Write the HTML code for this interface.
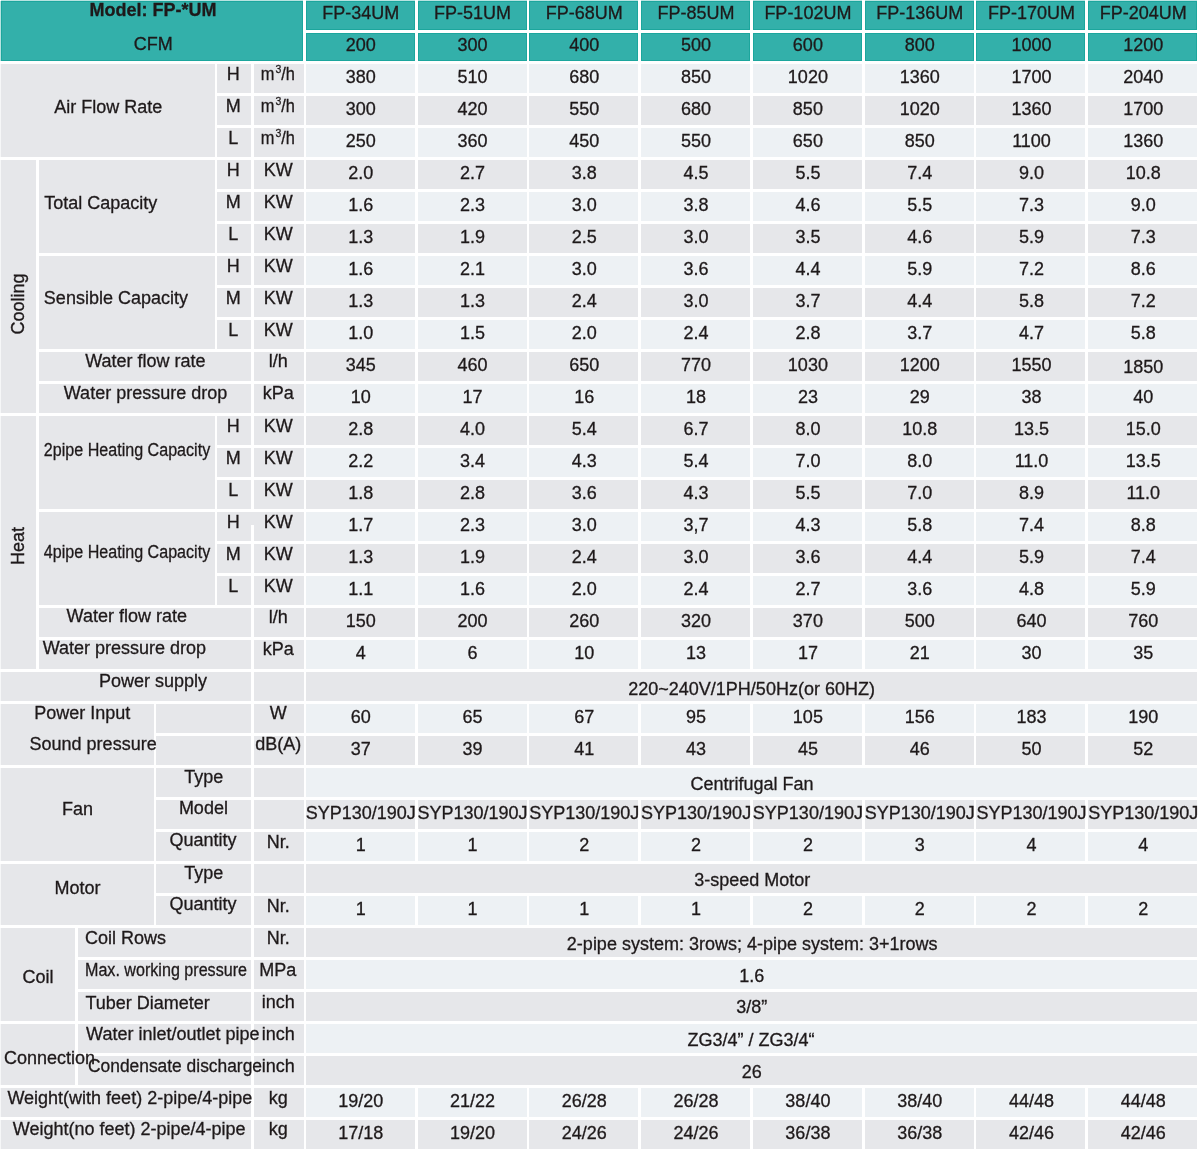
<!DOCTYPE html>
<html><head><meta charset="utf-8"><title>FP-UM specification</title>
<style>
html,body{margin:0;padding:0;background:#fff;}
body{width:1200px;height:1151px;position:relative;overflow:hidden;}
.c{position:absolute;}
#tx{position:absolute;left:0;top:0;width:1200px;height:1151px;will-change:transform;}
.t{position:absolute;-webkit-text-stroke:0.3px #1e191a;font-family:"Liberation Sans",Arial,sans-serif;font-size:18px;line-height:20px;color:#1e191a;white-space:nowrap;width:400px;text-align:center;}
.b{font-weight:bold;}
sup{font-size:11.5px;line-height:10px;vertical-align:0;position:relative;top:-6.1px;margin-left:1.4px;margin-right:-0.2px;}
.m3{display:inline-block;transform:scaleX(0.91);}
</style></head><body>

<div class="c" style="left:0px;top:0.5px;width:1px;height:60.5px;background:#33b0aa;opacity:.35"></div>
<div class="c" style="left:0.75px;top:0px;width:302.55px;height:1px;background:#33b0aa;opacity:.35"></div>
<div class="c" style="left:306px;top:0px;width:109px;height:1px;background:#33b0aa;opacity:.35"></div>
<div class="c" style="left:417.73px;top:0px;width:109px;height:1px;background:#33b0aa;opacity:.35"></div>
<div class="c" style="left:529.46px;top:0px;width:109px;height:1px;background:#33b0aa;opacity:.35"></div>
<div class="c" style="left:641.19px;top:0px;width:109px;height:1px;background:#33b0aa;opacity:.35"></div>
<div class="c" style="left:752.92px;top:0px;width:109px;height:1px;background:#33b0aa;opacity:.35"></div>
<div class="c" style="left:864.65px;top:0px;width:109px;height:1px;background:#33b0aa;opacity:.35"></div>
<div class="c" style="left:976.38px;top:0px;width:109px;height:1px;background:#33b0aa;opacity:.35"></div>
<div class="c" style="left:1088.11px;top:0px;width:109px;height:1px;background:#33b0aa;opacity:.35"></div>
<div class="c" style="left:0px;top:64.452px;width:1px;height:92.852px;background:#e6e7ea;opacity:.35"></div>
<div class="c" style="left:0px;top:160.38px;width:1px;height:252.732px;background:#e6e7ea;opacity:.35"></div>
<div class="c" style="left:0px;top:416.188px;width:1px;height:252.732px;background:#e6e7ea;opacity:.35"></div>
<div class="c" style="left:0px;top:671.996px;width:1px;height:28.9px;background:#e6e7ea;opacity:.35"></div>
<div class="c" style="left:0px;top:703.972px;width:1px;height:60.876px;background:#e6e7ea;opacity:.35"></div>
<div class="c" style="left:0px;top:767.924px;width:1px;height:92.852px;background:#e6e7ea;opacity:.35"></div>
<div class="c" style="left:0px;top:863.852px;width:1px;height:60.876px;background:#e6e7ea;opacity:.35"></div>
<div class="c" style="left:0px;top:927.804px;width:1px;height:92.852px;background:#e6e7ea;opacity:.35"></div>
<div class="c" style="left:0px;top:1023.732px;width:1px;height:60.876px;background:#e6e7ea;opacity:.35"></div>
<div class="c" style="left:0px;top:1087.684px;width:1px;height:28.9px;background:#e6e7ea;opacity:.35"></div>
<div class="c" style="left:0px;top:1119.66px;width:1px;height:28.9px;background:#e6e7ea;opacity:.35"></div>
<div class="c" style="left:0.75px;top:0.5px;width:302.55px;height:60.5px;background:#33b0aa;box-shadow:inset 0 0 0 1px #1ca69d"></div>
<div class="c" style="left:306px;top:0.5px;width:109px;height:29.3px;background:#33b0aa;box-shadow:inset 0 0 0 1px #1ca69d"></div>
<div class="c" style="left:306px;top:32.9px;width:109px;height:28.1px;background:#33b0aa;box-shadow:inset 0 0 0 1px #1ca69d"></div>
<div class="c" style="left:417.73px;top:0.5px;width:109px;height:29.3px;background:#33b0aa;box-shadow:inset 0 0 0 1px #1ca69d"></div>
<div class="c" style="left:417.73px;top:32.9px;width:109px;height:28.1px;background:#33b0aa;box-shadow:inset 0 0 0 1px #1ca69d"></div>
<div class="c" style="left:529.46px;top:0.5px;width:109px;height:29.3px;background:#33b0aa;box-shadow:inset 0 0 0 1px #1ca69d"></div>
<div class="c" style="left:529.46px;top:32.9px;width:109px;height:28.1px;background:#33b0aa;box-shadow:inset 0 0 0 1px #1ca69d"></div>
<div class="c" style="left:641.19px;top:0.5px;width:109px;height:29.3px;background:#33b0aa;box-shadow:inset 0 0 0 1px #1ca69d"></div>
<div class="c" style="left:641.19px;top:32.9px;width:109px;height:28.1px;background:#33b0aa;box-shadow:inset 0 0 0 1px #1ca69d"></div>
<div class="c" style="left:752.92px;top:0.5px;width:109px;height:29.3px;background:#33b0aa;box-shadow:inset 0 0 0 1px #1ca69d"></div>
<div class="c" style="left:752.92px;top:32.9px;width:109px;height:28.1px;background:#33b0aa;box-shadow:inset 0 0 0 1px #1ca69d"></div>
<div class="c" style="left:864.65px;top:0.5px;width:109px;height:29.3px;background:#33b0aa;box-shadow:inset 0 0 0 1px #1ca69d"></div>
<div class="c" style="left:864.65px;top:32.9px;width:109px;height:28.1px;background:#33b0aa;box-shadow:inset 0 0 0 1px #1ca69d"></div>
<div class="c" style="left:976.38px;top:0.5px;width:109px;height:29.3px;background:#33b0aa;box-shadow:inset 0 0 0 1px #1ca69d"></div>
<div class="c" style="left:976.38px;top:32.9px;width:109px;height:28.1px;background:#33b0aa;box-shadow:inset 0 0 0 1px #1ca69d"></div>
<div class="c" style="left:1088.11px;top:0.5px;width:109px;height:29.3px;background:#33b0aa;box-shadow:inset 0 0 0 1px #1ca69d"></div>
<div class="c" style="left:1088.11px;top:32.9px;width:109px;height:28.1px;background:#33b0aa;box-shadow:inset 0 0 0 1px #1ca69d"></div>
<div class="c" style="left:0.75px;top:64.452px;width:214.25px;height:92.852px;background:#e6e7ea"></div>
<div class="c" style="left:217.3px;top:64.452px;width:33.7px;height:28.9px;background:#e6e7ea"></div>
<div class="c" style="left:253.8px;top:64.452px;width:49.9px;height:28.9px;background:#e6e7ea"></div>
<div class="c" style="left:217.3px;top:96.428px;width:33.7px;height:28.9px;background:#e6e7ea"></div>
<div class="c" style="left:253.8px;top:96.428px;width:49.9px;height:28.9px;background:#e6e7ea"></div>
<div class="c" style="left:217.3px;top:128.404px;width:33.7px;height:28.9px;background:#e6e7ea"></div>
<div class="c" style="left:253.8px;top:128.404px;width:49.9px;height:28.9px;background:#e6e7ea"></div>
<div class="c" style="left:0.75px;top:160.38px;width:35.25px;height:252.732px;background:#e6e7ea"></div>
<div class="c" style="left:38.7px;top:160.38px;width:176.3px;height:92.852px;background:#e6e7ea"></div>
<div class="c" style="left:217.3px;top:160.38px;width:33.7px;height:28.9px;background:#e6e7ea"></div>
<div class="c" style="left:253.8px;top:160.38px;width:49.9px;height:28.9px;background:#e6e7ea"></div>
<div class="c" style="left:217.3px;top:192.356px;width:33.7px;height:28.9px;background:#e6e7ea"></div>
<div class="c" style="left:253.8px;top:192.356px;width:49.9px;height:28.9px;background:#e6e7ea"></div>
<div class="c" style="left:217.3px;top:224.332px;width:33.7px;height:28.9px;background:#e6e7ea"></div>
<div class="c" style="left:253.8px;top:224.332px;width:49.9px;height:28.9px;background:#e6e7ea"></div>
<div class="c" style="left:38.7px;top:256.308px;width:176.3px;height:92.852px;background:#e6e7ea"></div>
<div class="c" style="left:217.3px;top:256.308px;width:33.7px;height:28.9px;background:#e6e7ea"></div>
<div class="c" style="left:253.8px;top:256.308px;width:49.9px;height:28.9px;background:#e6e7ea"></div>
<div class="c" style="left:217.3px;top:288.284px;width:33.7px;height:28.9px;background:#e6e7ea"></div>
<div class="c" style="left:253.8px;top:288.284px;width:49.9px;height:28.9px;background:#e6e7ea"></div>
<div class="c" style="left:217.3px;top:320.26px;width:33.7px;height:28.9px;background:#e6e7ea"></div>
<div class="c" style="left:253.8px;top:320.26px;width:49.9px;height:28.9px;background:#e6e7ea"></div>
<div class="c" style="left:38.7px;top:352.236px;width:212.3px;height:28.9px;background:#e6e7ea"></div>
<div class="c" style="left:253.8px;top:352.236px;width:49.9px;height:28.9px;background:#e6e7ea"></div>
<div class="c" style="left:38.7px;top:384.212px;width:212.3px;height:28.9px;background:#e6e7ea"></div>
<div class="c" style="left:253.8px;top:384.212px;width:49.9px;height:28.9px;background:#e6e7ea"></div>
<div class="c" style="left:0.75px;top:416.188px;width:35.25px;height:252.732px;background:#e6e7ea"></div>
<div class="c" style="left:38.7px;top:416.188px;width:176.3px;height:92.852px;background:#e6e7ea"></div>
<div class="c" style="left:217.3px;top:416.188px;width:33.7px;height:28.9px;background:#e6e7ea"></div>
<div class="c" style="left:253.8px;top:416.188px;width:49.9px;height:28.9px;background:#e6e7ea"></div>
<div class="c" style="left:217.3px;top:448.164px;width:33.7px;height:28.9px;background:#e6e7ea"></div>
<div class="c" style="left:253.8px;top:448.164px;width:49.9px;height:28.9px;background:#e6e7ea"></div>
<div class="c" style="left:217.3px;top:480.14px;width:33.7px;height:28.9px;background:#e6e7ea"></div>
<div class="c" style="left:253.8px;top:480.14px;width:49.9px;height:28.9px;background:#e6e7ea"></div>
<div class="c" style="left:38.7px;top:512.116px;width:176.3px;height:92.852px;background:#e6e7ea"></div>
<div class="c" style="left:250.5px;top:512px;width:3.8px;height:12.5px;background:#e6e7ea"></div>
<div class="c" style="left:217.3px;top:512.116px;width:33.7px;height:28.9px;background:#e6e7ea"></div>
<div class="c" style="left:253.8px;top:512.116px;width:49.9px;height:28.9px;background:#e6e7ea"></div>
<div class="c" style="left:217.3px;top:544.092px;width:33.7px;height:28.9px;background:#e6e7ea"></div>
<div class="c" style="left:253.8px;top:544.092px;width:49.9px;height:28.9px;background:#e6e7ea"></div>
<div class="c" style="left:217.3px;top:576.068px;width:33.7px;height:28.9px;background:#e6e7ea"></div>
<div class="c" style="left:253.8px;top:576.068px;width:49.9px;height:28.9px;background:#e6e7ea"></div>
<div class="c" style="left:38.7px;top:608.044px;width:212.3px;height:28.9px;background:#e6e7ea"></div>
<div class="c" style="left:253.8px;top:608.044px;width:49.9px;height:28.9px;background:#e6e7ea"></div>
<div class="c" style="left:38.7px;top:640.02px;width:212.3px;height:28.9px;background:#e6e7ea"></div>
<div class="c" style="left:253.8px;top:640.02px;width:49.9px;height:28.9px;background:#e6e7ea"></div>
<div class="c" style="left:0.75px;top:671.996px;width:250.25px;height:28.9px;background:#e6e7ea"></div>
<div class="c" style="left:253.8px;top:671.996px;width:49.9px;height:28.9px;background:#e6e7ea"></div>
<div class="c" style="left:0.75px;top:703.972px;width:152.95px;height:60.876px;background:#e6e7ea"></div>
<div class="c" style="left:156.3px;top:703.972px;width:94.7px;height:28.9px;background:#e6e7ea"></div>
<div class="c" style="left:156.3px;top:735.948px;width:94.7px;height:28.9px;background:#e6e7ea"></div>
<div class="c" style="left:253.8px;top:703.972px;width:49.9px;height:28.9px;background:#e6e7ea"></div>
<div class="c" style="left:253.8px;top:735.948px;width:49.9px;height:28.9px;background:#e6e7ea"></div>
<div class="c" style="left:0.75px;top:767.924px;width:152.95px;height:92.852px;background:#e6e7ea"></div>
<div class="c" style="left:156.3px;top:767.924px;width:94.7px;height:28.9px;background:#e6e7ea"></div>
<div class="c" style="left:253.8px;top:767.924px;width:49.9px;height:28.9px;background:#e6e7ea"></div>
<div class="c" style="left:156.3px;top:799.9px;width:94.7px;height:28.9px;background:#e6e7ea"></div>
<div class="c" style="left:253.8px;top:799.9px;width:49.9px;height:28.9px;background:#e6e7ea"></div>
<div class="c" style="left:156.3px;top:831.876px;width:94.7px;height:28.9px;background:#e6e7ea"></div>
<div class="c" style="left:253.8px;top:831.876px;width:49.9px;height:28.9px;background:#e6e7ea"></div>
<div class="c" style="left:0.75px;top:863.852px;width:152.95px;height:60.876px;background:#e6e7ea"></div>
<div class="c" style="left:156.3px;top:863.852px;width:94.7px;height:28.9px;background:#e6e7ea"></div>
<div class="c" style="left:253.8px;top:863.852px;width:49.9px;height:28.9px;background:#e6e7ea"></div>
<div class="c" style="left:156.3px;top:895.828px;width:94.7px;height:28.9px;background:#e6e7ea"></div>
<div class="c" style="left:253.8px;top:895.828px;width:49.9px;height:28.9px;background:#e6e7ea"></div>
<div class="c" style="left:0.75px;top:927.804px;width:74.25px;height:92.852px;background:#e6e7ea"></div>
<div class="c" style="left:78.3px;top:927.804px;width:172.7px;height:28.9px;background:#e6e7ea"></div>
<div class="c" style="left:253.8px;top:927.804px;width:49.9px;height:28.9px;background:#e6e7ea"></div>
<div class="c" style="left:78.3px;top:959.78px;width:172.7px;height:28.9px;background:#e6e7ea"></div>
<div class="c" style="left:253.8px;top:959.78px;width:49.9px;height:28.9px;background:#e6e7ea"></div>
<div class="c" style="left:78.3px;top:991.756px;width:172.7px;height:28.9px;background:#e6e7ea"></div>
<div class="c" style="left:253.8px;top:991.756px;width:49.9px;height:28.9px;background:#e6e7ea"></div>
<div class="c" style="left:0.75px;top:1023.732px;width:74.25px;height:60.876px;background:#e6e7ea"></div>
<div class="c" style="left:78.3px;top:1023.732px;width:172.7px;height:28.9px;background:#e6e7ea"></div>
<div class="c" style="left:253.8px;top:1023.732px;width:49.9px;height:28.9px;background:#e6e7ea"></div>
<div class="c" style="left:78.3px;top:1055.708px;width:172.7px;height:28.9px;background:#e6e7ea"></div>
<div class="c" style="left:253.8px;top:1055.708px;width:49.9px;height:28.9px;background:#e6e7ea"></div>
<div class="c" style="left:0.75px;top:1087.684px;width:250.25px;height:28.9px;background:#e6e7ea"></div>
<div class="c" style="left:253.8px;top:1087.684px;width:49.9px;height:28.9px;background:#e6e7ea"></div>
<div class="c" style="left:0.75px;top:1119.66px;width:250.25px;height:28.9px;background:#e6e7ea"></div>
<div class="c" style="left:253.8px;top:1119.66px;width:49.9px;height:28.9px;background:#e6e7ea"></div>
<div class="c" style="left:306px;top:64.452px;width:109px;height:28.9px;background:#edf1f4"></div>
<div class="c" style="left:417.73px;top:64.452px;width:109px;height:28.9px;background:#edf1f4"></div>
<div class="c" style="left:529.46px;top:64.452px;width:109px;height:28.9px;background:#edf1f4"></div>
<div class="c" style="left:641.19px;top:64.452px;width:109px;height:28.9px;background:#edf1f4"></div>
<div class="c" style="left:752.92px;top:64.452px;width:109px;height:28.9px;background:#edf1f4"></div>
<div class="c" style="left:864.65px;top:64.452px;width:109px;height:28.9px;background:#edf1f4"></div>
<div class="c" style="left:976.38px;top:64.452px;width:109px;height:28.9px;background:#edf1f4"></div>
<div class="c" style="left:1088.11px;top:64.452px;width:109px;height:28.9px;background:#edf1f4"></div>
<div class="c" style="left:306px;top:96.428px;width:109px;height:28.9px;background:#e6e7ea"></div>
<div class="c" style="left:417.73px;top:96.428px;width:109px;height:28.9px;background:#e6e7ea"></div>
<div class="c" style="left:529.46px;top:96.428px;width:109px;height:28.9px;background:#e6e7ea"></div>
<div class="c" style="left:641.19px;top:96.428px;width:109px;height:28.9px;background:#e6e7ea"></div>
<div class="c" style="left:752.92px;top:96.428px;width:109px;height:28.9px;background:#e6e7ea"></div>
<div class="c" style="left:864.65px;top:96.428px;width:109px;height:28.9px;background:#e6e7ea"></div>
<div class="c" style="left:976.38px;top:96.428px;width:109px;height:28.9px;background:#e6e7ea"></div>
<div class="c" style="left:1088.11px;top:96.428px;width:109px;height:28.9px;background:#e6e7ea"></div>
<div class="c" style="left:306px;top:128.404px;width:109px;height:28.9px;background:#edf1f4"></div>
<div class="c" style="left:417.73px;top:128.404px;width:109px;height:28.9px;background:#edf1f4"></div>
<div class="c" style="left:529.46px;top:128.404px;width:109px;height:28.9px;background:#edf1f4"></div>
<div class="c" style="left:641.19px;top:128.404px;width:109px;height:28.9px;background:#edf1f4"></div>
<div class="c" style="left:752.92px;top:128.404px;width:109px;height:28.9px;background:#edf1f4"></div>
<div class="c" style="left:864.65px;top:128.404px;width:109px;height:28.9px;background:#edf1f4"></div>
<div class="c" style="left:976.38px;top:128.404px;width:109px;height:28.9px;background:#edf1f4"></div>
<div class="c" style="left:1088.11px;top:128.404px;width:109px;height:28.9px;background:#edf1f4"></div>
<div class="c" style="left:306px;top:160.38px;width:109px;height:28.9px;background:#e6e7ea"></div>
<div class="c" style="left:417.73px;top:160.38px;width:109px;height:28.9px;background:#e6e7ea"></div>
<div class="c" style="left:529.46px;top:160.38px;width:109px;height:28.9px;background:#e6e7ea"></div>
<div class="c" style="left:641.19px;top:160.38px;width:109px;height:28.9px;background:#e6e7ea"></div>
<div class="c" style="left:752.92px;top:160.38px;width:109px;height:28.9px;background:#e6e7ea"></div>
<div class="c" style="left:864.65px;top:160.38px;width:109px;height:28.9px;background:#e6e7ea"></div>
<div class="c" style="left:976.38px;top:160.38px;width:109px;height:28.9px;background:#e6e7ea"></div>
<div class="c" style="left:1088.11px;top:160.38px;width:109px;height:28.9px;background:#e6e7ea"></div>
<div class="c" style="left:306px;top:192.356px;width:109px;height:28.9px;background:#edf1f4"></div>
<div class="c" style="left:417.73px;top:192.356px;width:109px;height:28.9px;background:#edf1f4"></div>
<div class="c" style="left:529.46px;top:192.356px;width:109px;height:28.9px;background:#edf1f4"></div>
<div class="c" style="left:641.19px;top:192.356px;width:109px;height:28.9px;background:#edf1f4"></div>
<div class="c" style="left:752.92px;top:192.356px;width:109px;height:28.9px;background:#edf1f4"></div>
<div class="c" style="left:864.65px;top:192.356px;width:109px;height:28.9px;background:#edf1f4"></div>
<div class="c" style="left:976.38px;top:192.356px;width:109px;height:28.9px;background:#edf1f4"></div>
<div class="c" style="left:1088.11px;top:192.356px;width:109px;height:28.9px;background:#edf1f4"></div>
<div class="c" style="left:306px;top:224.332px;width:109px;height:28.9px;background:#e6e7ea"></div>
<div class="c" style="left:417.73px;top:224.332px;width:109px;height:28.9px;background:#e6e7ea"></div>
<div class="c" style="left:529.46px;top:224.332px;width:109px;height:28.9px;background:#e6e7ea"></div>
<div class="c" style="left:641.19px;top:224.332px;width:109px;height:28.9px;background:#e6e7ea"></div>
<div class="c" style="left:752.92px;top:224.332px;width:109px;height:28.9px;background:#e6e7ea"></div>
<div class="c" style="left:864.65px;top:224.332px;width:109px;height:28.9px;background:#e6e7ea"></div>
<div class="c" style="left:976.38px;top:224.332px;width:109px;height:28.9px;background:#e6e7ea"></div>
<div class="c" style="left:1088.11px;top:224.332px;width:109px;height:28.9px;background:#e6e7ea"></div>
<div class="c" style="left:306px;top:256.308px;width:109px;height:28.9px;background:#edf1f4"></div>
<div class="c" style="left:417.73px;top:256.308px;width:109px;height:28.9px;background:#edf1f4"></div>
<div class="c" style="left:529.46px;top:256.308px;width:109px;height:28.9px;background:#edf1f4"></div>
<div class="c" style="left:641.19px;top:256.308px;width:109px;height:28.9px;background:#edf1f4"></div>
<div class="c" style="left:752.92px;top:256.308px;width:109px;height:28.9px;background:#edf1f4"></div>
<div class="c" style="left:864.65px;top:256.308px;width:109px;height:28.9px;background:#edf1f4"></div>
<div class="c" style="left:976.38px;top:256.308px;width:109px;height:28.9px;background:#edf1f4"></div>
<div class="c" style="left:1088.11px;top:256.308px;width:109px;height:28.9px;background:#edf1f4"></div>
<div class="c" style="left:306px;top:288.284px;width:109px;height:28.9px;background:#e6e7ea"></div>
<div class="c" style="left:417.73px;top:288.284px;width:109px;height:28.9px;background:#e6e7ea"></div>
<div class="c" style="left:529.46px;top:288.284px;width:109px;height:28.9px;background:#e6e7ea"></div>
<div class="c" style="left:641.19px;top:288.284px;width:109px;height:28.9px;background:#e6e7ea"></div>
<div class="c" style="left:752.92px;top:288.284px;width:109px;height:28.9px;background:#e6e7ea"></div>
<div class="c" style="left:864.65px;top:288.284px;width:109px;height:28.9px;background:#e6e7ea"></div>
<div class="c" style="left:976.38px;top:288.284px;width:109px;height:28.9px;background:#e6e7ea"></div>
<div class="c" style="left:1088.11px;top:288.284px;width:109px;height:28.9px;background:#e6e7ea"></div>
<div class="c" style="left:306px;top:320.26px;width:109px;height:28.9px;background:#edf1f4"></div>
<div class="c" style="left:417.73px;top:320.26px;width:109px;height:28.9px;background:#edf1f4"></div>
<div class="c" style="left:529.46px;top:320.26px;width:109px;height:28.9px;background:#edf1f4"></div>
<div class="c" style="left:641.19px;top:320.26px;width:109px;height:28.9px;background:#edf1f4"></div>
<div class="c" style="left:752.92px;top:320.26px;width:109px;height:28.9px;background:#edf1f4"></div>
<div class="c" style="left:864.65px;top:320.26px;width:109px;height:28.9px;background:#edf1f4"></div>
<div class="c" style="left:976.38px;top:320.26px;width:109px;height:28.9px;background:#edf1f4"></div>
<div class="c" style="left:1088.11px;top:320.26px;width:109px;height:28.9px;background:#edf1f4"></div>
<div class="c" style="left:306px;top:352.236px;width:109px;height:28.9px;background:#e6e7ea"></div>
<div class="c" style="left:417.73px;top:352.236px;width:109px;height:28.9px;background:#e6e7ea"></div>
<div class="c" style="left:529.46px;top:352.236px;width:109px;height:28.9px;background:#e6e7ea"></div>
<div class="c" style="left:641.19px;top:352.236px;width:109px;height:28.9px;background:#e6e7ea"></div>
<div class="c" style="left:752.92px;top:352.236px;width:109px;height:28.9px;background:#e6e7ea"></div>
<div class="c" style="left:864.65px;top:352.236px;width:109px;height:28.9px;background:#e6e7ea"></div>
<div class="c" style="left:976.38px;top:352.236px;width:109px;height:28.9px;background:#e6e7ea"></div>
<div class="c" style="left:1088.11px;top:352.236px;width:109px;height:28.9px;background:#e6e7ea"></div>
<div class="c" style="left:306px;top:384.212px;width:109px;height:28.9px;background:#edf1f4"></div>
<div class="c" style="left:417.73px;top:384.212px;width:109px;height:28.9px;background:#edf1f4"></div>
<div class="c" style="left:529.46px;top:384.212px;width:109px;height:28.9px;background:#edf1f4"></div>
<div class="c" style="left:641.19px;top:384.212px;width:109px;height:28.9px;background:#edf1f4"></div>
<div class="c" style="left:752.92px;top:384.212px;width:109px;height:28.9px;background:#edf1f4"></div>
<div class="c" style="left:864.65px;top:384.212px;width:109px;height:28.9px;background:#edf1f4"></div>
<div class="c" style="left:976.38px;top:384.212px;width:109px;height:28.9px;background:#edf1f4"></div>
<div class="c" style="left:1088.11px;top:384.212px;width:109px;height:28.9px;background:#edf1f4"></div>
<div class="c" style="left:306px;top:416.188px;width:109px;height:28.9px;background:#e6e7ea"></div>
<div class="c" style="left:417.73px;top:416.188px;width:109px;height:28.9px;background:#e6e7ea"></div>
<div class="c" style="left:529.46px;top:416.188px;width:109px;height:28.9px;background:#e6e7ea"></div>
<div class="c" style="left:641.19px;top:416.188px;width:109px;height:28.9px;background:#e6e7ea"></div>
<div class="c" style="left:752.92px;top:416.188px;width:109px;height:28.9px;background:#e6e7ea"></div>
<div class="c" style="left:864.65px;top:416.188px;width:109px;height:28.9px;background:#e6e7ea"></div>
<div class="c" style="left:976.38px;top:416.188px;width:109px;height:28.9px;background:#e6e7ea"></div>
<div class="c" style="left:1088.11px;top:416.188px;width:109px;height:28.9px;background:#e6e7ea"></div>
<div class="c" style="left:306px;top:448.164px;width:109px;height:28.9px;background:#edf1f4"></div>
<div class="c" style="left:417.73px;top:448.164px;width:109px;height:28.9px;background:#edf1f4"></div>
<div class="c" style="left:529.46px;top:448.164px;width:109px;height:28.9px;background:#edf1f4"></div>
<div class="c" style="left:641.19px;top:448.164px;width:109px;height:28.9px;background:#edf1f4"></div>
<div class="c" style="left:752.92px;top:448.164px;width:109px;height:28.9px;background:#edf1f4"></div>
<div class="c" style="left:864.65px;top:448.164px;width:109px;height:28.9px;background:#edf1f4"></div>
<div class="c" style="left:976.38px;top:448.164px;width:109px;height:28.9px;background:#edf1f4"></div>
<div class="c" style="left:1088.11px;top:448.164px;width:109px;height:28.9px;background:#edf1f4"></div>
<div class="c" style="left:306px;top:480.14px;width:109px;height:28.9px;background:#e6e7ea"></div>
<div class="c" style="left:417.73px;top:480.14px;width:109px;height:28.9px;background:#e6e7ea"></div>
<div class="c" style="left:529.46px;top:480.14px;width:109px;height:28.9px;background:#e6e7ea"></div>
<div class="c" style="left:641.19px;top:480.14px;width:109px;height:28.9px;background:#e6e7ea"></div>
<div class="c" style="left:752.92px;top:480.14px;width:109px;height:28.9px;background:#e6e7ea"></div>
<div class="c" style="left:864.65px;top:480.14px;width:109px;height:28.9px;background:#e6e7ea"></div>
<div class="c" style="left:976.38px;top:480.14px;width:109px;height:28.9px;background:#e6e7ea"></div>
<div class="c" style="left:1088.11px;top:480.14px;width:109px;height:28.9px;background:#e6e7ea"></div>
<div class="c" style="left:306px;top:512.116px;width:109px;height:28.9px;background:#edf1f4"></div>
<div class="c" style="left:417.73px;top:512.116px;width:109px;height:28.9px;background:#edf1f4"></div>
<div class="c" style="left:529.46px;top:512.116px;width:109px;height:28.9px;background:#edf1f4"></div>
<div class="c" style="left:641.19px;top:512.116px;width:109px;height:28.9px;background:#edf1f4"></div>
<div class="c" style="left:752.92px;top:512.116px;width:109px;height:28.9px;background:#edf1f4"></div>
<div class="c" style="left:864.65px;top:512.116px;width:109px;height:28.9px;background:#edf1f4"></div>
<div class="c" style="left:976.38px;top:512.116px;width:109px;height:28.9px;background:#edf1f4"></div>
<div class="c" style="left:1088.11px;top:512.116px;width:109px;height:28.9px;background:#edf1f4"></div>
<div class="c" style="left:306px;top:544.092px;width:109px;height:28.9px;background:#e6e7ea"></div>
<div class="c" style="left:417.73px;top:544.092px;width:109px;height:28.9px;background:#e6e7ea"></div>
<div class="c" style="left:529.46px;top:544.092px;width:109px;height:28.9px;background:#e6e7ea"></div>
<div class="c" style="left:641.19px;top:544.092px;width:109px;height:28.9px;background:#e6e7ea"></div>
<div class="c" style="left:752.92px;top:544.092px;width:109px;height:28.9px;background:#e6e7ea"></div>
<div class="c" style="left:864.65px;top:544.092px;width:109px;height:28.9px;background:#e6e7ea"></div>
<div class="c" style="left:976.38px;top:544.092px;width:109px;height:28.9px;background:#e6e7ea"></div>
<div class="c" style="left:1088.11px;top:544.092px;width:109px;height:28.9px;background:#e6e7ea"></div>
<div class="c" style="left:306px;top:576.068px;width:109px;height:28.9px;background:#edf1f4"></div>
<div class="c" style="left:417.73px;top:576.068px;width:109px;height:28.9px;background:#edf1f4"></div>
<div class="c" style="left:529.46px;top:576.068px;width:109px;height:28.9px;background:#edf1f4"></div>
<div class="c" style="left:641.19px;top:576.068px;width:109px;height:28.9px;background:#edf1f4"></div>
<div class="c" style="left:752.92px;top:576.068px;width:109px;height:28.9px;background:#edf1f4"></div>
<div class="c" style="left:864.65px;top:576.068px;width:109px;height:28.9px;background:#edf1f4"></div>
<div class="c" style="left:976.38px;top:576.068px;width:109px;height:28.9px;background:#edf1f4"></div>
<div class="c" style="left:1088.11px;top:576.068px;width:109px;height:28.9px;background:#edf1f4"></div>
<div class="c" style="left:306px;top:608.044px;width:109px;height:28.9px;background:#e6e7ea"></div>
<div class="c" style="left:417.73px;top:608.044px;width:109px;height:28.9px;background:#e6e7ea"></div>
<div class="c" style="left:529.46px;top:608.044px;width:109px;height:28.9px;background:#e6e7ea"></div>
<div class="c" style="left:641.19px;top:608.044px;width:109px;height:28.9px;background:#e6e7ea"></div>
<div class="c" style="left:752.92px;top:608.044px;width:109px;height:28.9px;background:#e6e7ea"></div>
<div class="c" style="left:864.65px;top:608.044px;width:109px;height:28.9px;background:#e6e7ea"></div>
<div class="c" style="left:976.38px;top:608.044px;width:109px;height:28.9px;background:#e6e7ea"></div>
<div class="c" style="left:1088.11px;top:608.044px;width:109px;height:28.9px;background:#e6e7ea"></div>
<div class="c" style="left:306px;top:640.02px;width:109px;height:28.9px;background:#edf1f4"></div>
<div class="c" style="left:417.73px;top:640.02px;width:109px;height:28.9px;background:#edf1f4"></div>
<div class="c" style="left:529.46px;top:640.02px;width:109px;height:28.9px;background:#edf1f4"></div>
<div class="c" style="left:641.19px;top:640.02px;width:109px;height:28.9px;background:#edf1f4"></div>
<div class="c" style="left:752.92px;top:640.02px;width:109px;height:28.9px;background:#edf1f4"></div>
<div class="c" style="left:864.65px;top:640.02px;width:109px;height:28.9px;background:#edf1f4"></div>
<div class="c" style="left:976.38px;top:640.02px;width:109px;height:28.9px;background:#edf1f4"></div>
<div class="c" style="left:1088.11px;top:640.02px;width:109px;height:28.9px;background:#edf1f4"></div>
<div class="c" style="left:306px;top:671.996px;width:891.11px;height:28.9px;background:#e6e7ea"></div>
<div class="c" style="left:306px;top:703.972px;width:109px;height:28.9px;background:#edf1f4"></div>
<div class="c" style="left:417.73px;top:703.972px;width:109px;height:28.9px;background:#edf1f4"></div>
<div class="c" style="left:529.46px;top:703.972px;width:109px;height:28.9px;background:#edf1f4"></div>
<div class="c" style="left:641.19px;top:703.972px;width:109px;height:28.9px;background:#edf1f4"></div>
<div class="c" style="left:752.92px;top:703.972px;width:109px;height:28.9px;background:#edf1f4"></div>
<div class="c" style="left:864.65px;top:703.972px;width:109px;height:28.9px;background:#edf1f4"></div>
<div class="c" style="left:976.38px;top:703.972px;width:109px;height:28.9px;background:#edf1f4"></div>
<div class="c" style="left:1088.11px;top:703.972px;width:109px;height:28.9px;background:#edf1f4"></div>
<div class="c" style="left:306px;top:735.948px;width:109px;height:28.9px;background:#e6e7ea"></div>
<div class="c" style="left:417.73px;top:735.948px;width:109px;height:28.9px;background:#e6e7ea"></div>
<div class="c" style="left:529.46px;top:735.948px;width:109px;height:28.9px;background:#e6e7ea"></div>
<div class="c" style="left:641.19px;top:735.948px;width:109px;height:28.9px;background:#e6e7ea"></div>
<div class="c" style="left:752.92px;top:735.948px;width:109px;height:28.9px;background:#e6e7ea"></div>
<div class="c" style="left:864.65px;top:735.948px;width:109px;height:28.9px;background:#e6e7ea"></div>
<div class="c" style="left:976.38px;top:735.948px;width:109px;height:28.9px;background:#e6e7ea"></div>
<div class="c" style="left:1088.11px;top:735.948px;width:109px;height:28.9px;background:#e6e7ea"></div>
<div class="c" style="left:306px;top:767.924px;width:891.11px;height:28.9px;background:#edf1f4"></div>
<div class="c" style="left:306px;top:799.9px;width:109px;height:28.9px;background:#e6e7ea"></div>
<div class="c" style="left:417.73px;top:799.9px;width:109px;height:28.9px;background:#e6e7ea"></div>
<div class="c" style="left:529.46px;top:799.9px;width:109px;height:28.9px;background:#e6e7ea"></div>
<div class="c" style="left:641.19px;top:799.9px;width:109px;height:28.9px;background:#e6e7ea"></div>
<div class="c" style="left:752.92px;top:799.9px;width:109px;height:28.9px;background:#e6e7ea"></div>
<div class="c" style="left:864.65px;top:799.9px;width:109px;height:28.9px;background:#e6e7ea"></div>
<div class="c" style="left:976.38px;top:799.9px;width:109px;height:28.9px;background:#e6e7ea"></div>
<div class="c" style="left:1088.11px;top:799.9px;width:109px;height:28.9px;background:#e6e7ea"></div>
<div class="c" style="left:306px;top:831.876px;width:109px;height:28.9px;background:#edf1f4"></div>
<div class="c" style="left:417.73px;top:831.876px;width:109px;height:28.9px;background:#edf1f4"></div>
<div class="c" style="left:529.46px;top:831.876px;width:109px;height:28.9px;background:#edf1f4"></div>
<div class="c" style="left:641.19px;top:831.876px;width:109px;height:28.9px;background:#edf1f4"></div>
<div class="c" style="left:752.92px;top:831.876px;width:109px;height:28.9px;background:#edf1f4"></div>
<div class="c" style="left:864.65px;top:831.876px;width:109px;height:28.9px;background:#edf1f4"></div>
<div class="c" style="left:976.38px;top:831.876px;width:109px;height:28.9px;background:#edf1f4"></div>
<div class="c" style="left:1088.11px;top:831.876px;width:109px;height:28.9px;background:#edf1f4"></div>
<div class="c" style="left:306px;top:863.852px;width:891.11px;height:28.9px;background:#e6e7ea"></div>
<div class="c" style="left:306px;top:895.828px;width:109px;height:28.9px;background:#edf1f4"></div>
<div class="c" style="left:417.73px;top:895.828px;width:109px;height:28.9px;background:#edf1f4"></div>
<div class="c" style="left:529.46px;top:895.828px;width:109px;height:28.9px;background:#edf1f4"></div>
<div class="c" style="left:641.19px;top:895.828px;width:109px;height:28.9px;background:#edf1f4"></div>
<div class="c" style="left:752.92px;top:895.828px;width:109px;height:28.9px;background:#edf1f4"></div>
<div class="c" style="left:864.65px;top:895.828px;width:109px;height:28.9px;background:#edf1f4"></div>
<div class="c" style="left:976.38px;top:895.828px;width:109px;height:28.9px;background:#edf1f4"></div>
<div class="c" style="left:1088.11px;top:895.828px;width:109px;height:28.9px;background:#edf1f4"></div>
<div class="c" style="left:306px;top:927.804px;width:891.11px;height:28.9px;background:#e6e7ea"></div>
<div class="c" style="left:306px;top:959.78px;width:891.11px;height:28.9px;background:#edf1f4"></div>
<div class="c" style="left:306px;top:991.756px;width:891.11px;height:28.9px;background:#e6e7ea"></div>
<div class="c" style="left:306px;top:1023.732px;width:891.11px;height:28.9px;background:#edf1f4"></div>
<div class="c" style="left:306px;top:1055.708px;width:891.11px;height:28.9px;background:#e6e7ea"></div>
<div class="c" style="left:306px;top:1087.684px;width:109px;height:28.9px;background:#edf1f4"></div>
<div class="c" style="left:417.73px;top:1087.684px;width:109px;height:28.9px;background:#edf1f4"></div>
<div class="c" style="left:529.46px;top:1087.684px;width:109px;height:28.9px;background:#edf1f4"></div>
<div class="c" style="left:641.19px;top:1087.684px;width:109px;height:28.9px;background:#edf1f4"></div>
<div class="c" style="left:752.92px;top:1087.684px;width:109px;height:28.9px;background:#edf1f4"></div>
<div class="c" style="left:864.65px;top:1087.684px;width:109px;height:28.9px;background:#edf1f4"></div>
<div class="c" style="left:976.38px;top:1087.684px;width:109px;height:28.9px;background:#edf1f4"></div>
<div class="c" style="left:1088.11px;top:1087.684px;width:109px;height:28.9px;background:#edf1f4"></div>
<div class="c" style="left:306px;top:1119.66px;width:109px;height:28.9px;background:#e6e7ea"></div>
<div class="c" style="left:417.73px;top:1119.66px;width:109px;height:28.9px;background:#e6e7ea"></div>
<div class="c" style="left:529.46px;top:1119.66px;width:109px;height:28.9px;background:#e6e7ea"></div>
<div class="c" style="left:641.19px;top:1119.66px;width:109px;height:28.9px;background:#e6e7ea"></div>
<div class="c" style="left:752.92px;top:1119.66px;width:109px;height:28.9px;background:#e6e7ea"></div>
<div class="c" style="left:864.65px;top:1119.66px;width:109px;height:28.9px;background:#e6e7ea"></div>
<div class="c" style="left:976.38px;top:1119.66px;width:109px;height:28.9px;background:#e6e7ea"></div>
<div class="c" style="left:1088.11px;top:1119.66px;width:109px;height:28.9px;background:#e6e7ea"></div>
<div id="tx">
<div class="t b" style="left:-47.1px;top:0.06px">Model: FP-*UM</div>
<div class="t" style="left:-46.8px;top:33.76px">CFM</div>
<div class="t" style="left:160.7px;top:2.56px">FP-34UM</div>
<div class="t" style="left:160.7px;top:34.56px">200</div>
<div class="t" style="left:272.5px;top:2.56px">FP-51UM</div>
<div class="t" style="left:272.5px;top:34.56px">300</div>
<div class="t" style="left:384.3px;top:2.56px">FP-68UM</div>
<div class="t" style="left:384.3px;top:34.56px">400</div>
<div class="t" style="left:496.1px;top:2.56px">FP-85UM</div>
<div class="t" style="left:496.1px;top:34.56px">500</div>
<div class="t" style="left:607.9px;top:2.56px">FP-102UM</div>
<div class="t" style="left:607.9px;top:34.56px">600</div>
<div class="t" style="left:719.7px;top:2.56px">FP-136UM</div>
<div class="t" style="left:719.7px;top:34.56px">800</div>
<div class="t" style="left:831.5px;top:2.56px">FP-170UM</div>
<div class="t" style="left:831.5px;top:34.56px">1000</div>
<div class="t" style="left:943.3px;top:3.26px">FP-204UM</div>
<div class="t" style="left:943.3px;top:34.56px">1200</div>
<div class="t" style="left:-91.85px;top:96.66px">Air Flow Rate</div>
<div class="t" style="left:33.3px;top:63.56px">H</div>
<div class="t" style="left:78.2px;top:63.56px"><span class="m3">m<sup>3</sup>/h</span></div>
<div class="t" style="left:33.3px;top:95.56px">M</div>
<div class="t" style="left:78.2px;top:95.56px"><span class="m3">m<sup>3</sup>/h</span></div>
<div class="t" style="left:33.3px;top:127.56px">L</div>
<div class="t" style="left:78.2px;top:127.56px"><span class="m3">m<sup>3</sup>/h</span></div>
<div class="t" style="left:-182.24px;top:293.75px;transform:rotate(-90deg)">Cooling</div>
<div class="t" style="left:-99.25px;top:192.96px">Total Capacity</div>
<div class="t" style="left:33.3px;top:159.56px">H</div>
<div class="t" style="left:78.2px;top:159.56px">KW</div>
<div class="t" style="left:33.3px;top:191.56px">M</div>
<div class="t" style="left:78.2px;top:191.56px">KW</div>
<div class="t" style="left:33.3px;top:223.56px">L</div>
<div class="t" style="left:78.2px;top:223.56px">KW</div>
<div class="t" style="left:-84.1px;top:287.56px">Sensible Capacity</div>
<div class="t" style="left:33.3px;top:255.56px">H</div>
<div class="t" style="left:78.2px;top:255.56px">KW</div>
<div class="t" style="left:33.3px;top:287.56px">M</div>
<div class="t" style="left:78.2px;top:287.56px">KW</div>
<div class="t" style="left:33.3px;top:319.56px">L</div>
<div class="t" style="left:78.2px;top:319.56px">KW</div>
<div class="t" style="left:-54.6px;top:350.66px">Water flow rate</div>
<div class="t" style="left:78.2px;top:350.76px">l/h</div>
<div class="t" style="left:-54.5px;top:382.86px">Water pressure drop</div>
<div class="t" style="left:78.2px;top:383.16px">kPa</div>
<div class="t" style="left:-181.94px;top:535.8px;transform:rotate(-90deg)">Heat</div>
<div class="t" style="left:-72.55px;top:440.36px;transform:scaleX(0.894)">2pipe Heating Capacity</div>
<div class="t" style="left:33.3px;top:415.56px">H</div>
<div class="t" style="left:78.2px;top:415.56px">KW</div>
<div class="t" style="left:33.3px;top:447.56px">M</div>
<div class="t" style="left:78.2px;top:447.56px">KW</div>
<div class="t" style="left:33.3px;top:479.56px">L</div>
<div class="t" style="left:78.2px;top:479.56px">KW</div>
<div class="t" style="left:-72.55px;top:541.96px;transform:scaleX(0.894)">4pipe Heating Capacity</div>
<div class="t" style="left:33.3px;top:511.56px">H</div>
<div class="t" style="left:78.2px;top:511.56px">KW</div>
<div class="t" style="left:33.3px;top:543.56px">M</div>
<div class="t" style="left:78.2px;top:543.56px">KW</div>
<div class="t" style="left:33.3px;top:575.56px">L</div>
<div class="t" style="left:78.2px;top:575.56px">KW</div>
<div class="t" style="left:-73.25px;top:606.46px">Water flow rate</div>
<div class="t" style="left:78.2px;top:606.96px">l/h</div>
<div class="t" style="left:-75.6px;top:638.36px">Water pressure drop</div>
<div class="t" style="left:78.2px;top:639.16px">kPa</div>
<div class="t" style="left:-47.1px;top:670.86px">Power supply</div>
<div class="t" style="left:-117.7px;top:703.26px">Power Input</div>
<div class="t" style="left:-106.9px;top:734.26px">Sound pressure</div>
<div class="t" style="left:78.2px;top:703.26px">W</div>
<div class="t" style="left:78.2px;top:734.26px">dB(A)</div>
<div class="t" style="left:-122.5px;top:798.56px">Fan</div>
<div class="t" style="left:3.7px;top:766.96px">Type</div>
<div class="t" style="left:3.4px;top:797.96px">Model</div>
<div class="t" style="left:3px;top:830.26px">Quantity</div>
<div class="t" style="left:78.2px;top:831.56px">Nr.</div>
<div class="t" style="left:-122.6px;top:877.56px">Motor</div>
<div class="t" style="left:3.7px;top:862.56px">Type</div>
<div class="t" style="left:3px;top:893.56px">Quantity</div>
<div class="t" style="left:78.2px;top:895.66px">Nr.</div>
<div class="t" style="left:-162.1px;top:966.56px">Coil</div>
<div class="t" style="left:-74.6px;top:927.56px">Coil Rows</div>
<div class="t" style="left:78.2px;top:928.26px">Nr.</div>
<div class="t" style="left:-33.65px;top:960.06px;transform:scaleX(0.895)">Max. working pressure</div>
<div class="t" style="left:77.7px;top:960.26px">MPa</div>
<div class="t" style="left:-52.4px;top:992.96px">Tuber Diameter</div>
<div class="t" style="left:78.2px;top:991.56px">inch</div>
<div class="t" style="left:-150.5px;top:1048.26px">Connection</div>
<div class="t" style="left:-27.2px;top:1024.26px">Water inlet/outlet pipe</div>
<div class="t" style="left:78.2px;top:1023.76px">inch</div>
<div class="t" style="left:-25px;top:1056.06px;transform:scaleX(0.966)">Condensate discharge</div>
<div class="t" style="left:78.2px;top:1055.96px">inch</div>
<div class="t" style="left:-70.2px;top:1088.26px">Weight(with feet) 2-pipe/4-pipe</div>
<div class="t" style="left:78.2px;top:1087.76px">kg</div>
<div class="t" style="left:-70.85px;top:1119.26px">Weight(no feet) 2-pipe/4-pipe</div>
<div class="t" style="left:78.2px;top:1119.26px">kg</div>
<div class="t" style="left:160.7px;top:66.66px">380</div>
<div class="t" style="left:272.5px;top:66.66px">510</div>
<div class="t" style="left:384.3px;top:66.66px">680</div>
<div class="t" style="left:496.1px;top:66.66px">850</div>
<div class="t" style="left:607.9px;top:66.66px">1020</div>
<div class="t" style="left:719.7px;top:66.66px">1360</div>
<div class="t" style="left:831.5px;top:66.66px">1700</div>
<div class="t" style="left:943.3px;top:66.66px">2040</div>
<div class="t" style="left:160.7px;top:98.66px">300</div>
<div class="t" style="left:272.5px;top:98.66px">420</div>
<div class="t" style="left:384.3px;top:98.66px">550</div>
<div class="t" style="left:496.1px;top:98.66px">680</div>
<div class="t" style="left:607.9px;top:98.66px">850</div>
<div class="t" style="left:719.7px;top:98.66px">1020</div>
<div class="t" style="left:831.5px;top:98.66px">1360</div>
<div class="t" style="left:943.3px;top:98.66px">1700</div>
<div class="t" style="left:160.7px;top:130.66px">250</div>
<div class="t" style="left:272.5px;top:130.66px">360</div>
<div class="t" style="left:384.3px;top:130.66px">450</div>
<div class="t" style="left:496.1px;top:130.66px">550</div>
<div class="t" style="left:607.9px;top:130.66px">650</div>
<div class="t" style="left:719.7px;top:130.66px">850</div>
<div class="t" style="left:831.5px;top:130.66px">1100</div>
<div class="t" style="left:943.3px;top:130.66px">1360</div>
<div class="t" style="left:160.7px;top:162.66px">2.0</div>
<div class="t" style="left:272.5px;top:162.66px">2.7</div>
<div class="t" style="left:384.3px;top:162.66px">3.8</div>
<div class="t" style="left:496.1px;top:162.66px">4.5</div>
<div class="t" style="left:607.9px;top:162.66px">5.5</div>
<div class="t" style="left:719.7px;top:162.66px">7.4</div>
<div class="t" style="left:831.5px;top:162.66px">9.0</div>
<div class="t" style="left:943.3px;top:162.66px">10.8</div>
<div class="t" style="left:160.7px;top:194.66px">1.6</div>
<div class="t" style="left:272.5px;top:194.66px">2.3</div>
<div class="t" style="left:384.3px;top:194.66px">3.0</div>
<div class="t" style="left:496.1px;top:194.66px">3.8</div>
<div class="t" style="left:607.9px;top:194.66px">4.6</div>
<div class="t" style="left:719.7px;top:194.66px">5.5</div>
<div class="t" style="left:831.5px;top:194.66px">7.3</div>
<div class="t" style="left:943.3px;top:194.66px">9.0</div>
<div class="t" style="left:160.7px;top:226.66px">1.3</div>
<div class="t" style="left:272.5px;top:226.66px">1.9</div>
<div class="t" style="left:384.3px;top:226.66px">2.5</div>
<div class="t" style="left:496.1px;top:226.66px">3.0</div>
<div class="t" style="left:607.9px;top:226.66px">3.5</div>
<div class="t" style="left:719.7px;top:226.66px">4.6</div>
<div class="t" style="left:831.5px;top:226.66px">5.9</div>
<div class="t" style="left:943.3px;top:226.66px">7.3</div>
<div class="t" style="left:160.7px;top:258.66px">1.6</div>
<div class="t" style="left:272.5px;top:258.66px">2.1</div>
<div class="t" style="left:384.3px;top:258.66px">3.0</div>
<div class="t" style="left:496.1px;top:258.66px">3.6</div>
<div class="t" style="left:607.9px;top:258.66px">4.4</div>
<div class="t" style="left:719.7px;top:258.66px">5.9</div>
<div class="t" style="left:831.5px;top:258.66px">7.2</div>
<div class="t" style="left:943.3px;top:258.66px">8.6</div>
<div class="t" style="left:160.7px;top:290.66px">1.3</div>
<div class="t" style="left:272.5px;top:290.66px">1.3</div>
<div class="t" style="left:384.3px;top:290.66px">2.4</div>
<div class="t" style="left:496.1px;top:290.66px">3.0</div>
<div class="t" style="left:607.9px;top:290.66px">3.7</div>
<div class="t" style="left:719.7px;top:290.66px">4.4</div>
<div class="t" style="left:831.5px;top:290.66px">5.8</div>
<div class="t" style="left:943.3px;top:290.66px">7.2</div>
<div class="t" style="left:160.7px;top:322.66px">1.0</div>
<div class="t" style="left:272.5px;top:322.66px">1.5</div>
<div class="t" style="left:384.3px;top:322.66px">2.0</div>
<div class="t" style="left:496.1px;top:322.66px">2.4</div>
<div class="t" style="left:607.9px;top:322.66px">2.8</div>
<div class="t" style="left:719.7px;top:322.66px">3.7</div>
<div class="t" style="left:831.5px;top:322.66px">4.7</div>
<div class="t" style="left:943.3px;top:322.66px">5.8</div>
<div class="t" style="left:160.7px;top:354.66px">345</div>
<div class="t" style="left:272.5px;top:354.66px">460</div>
<div class="t" style="left:384.3px;top:354.66px">650</div>
<div class="t" style="left:496.1px;top:354.66px">770</div>
<div class="t" style="left:607.9px;top:354.66px">1030</div>
<div class="t" style="left:719.7px;top:354.66px">1200</div>
<div class="t" style="left:831.5px;top:354.66px">1550</div>
<div class="t" style="left:943.3px;top:356.96px">1850</div>
<div class="t" style="left:160.7px;top:386.66px">10</div>
<div class="t" style="left:272.5px;top:386.66px">17</div>
<div class="t" style="left:384.3px;top:386.66px">16</div>
<div class="t" style="left:496.1px;top:386.66px">18</div>
<div class="t" style="left:607.9px;top:386.66px">23</div>
<div class="t" style="left:719.7px;top:386.66px">29</div>
<div class="t" style="left:831.5px;top:386.66px">38</div>
<div class="t" style="left:943.3px;top:386.66px">40</div>
<div class="t" style="left:160.7px;top:418.66px">2.8</div>
<div class="t" style="left:272.5px;top:418.66px">4.0</div>
<div class="t" style="left:384.3px;top:418.66px">5.4</div>
<div class="t" style="left:496.1px;top:418.66px">6.7</div>
<div class="t" style="left:607.9px;top:418.66px">8.0</div>
<div class="t" style="left:719.7px;top:418.66px">10.8</div>
<div class="t" style="left:831.5px;top:418.66px">13.5</div>
<div class="t" style="left:943.3px;top:418.66px">15.0</div>
<div class="t" style="left:160.7px;top:450.66px">2.2</div>
<div class="t" style="left:272.5px;top:450.66px">3.4</div>
<div class="t" style="left:384.3px;top:450.66px">4.3</div>
<div class="t" style="left:496.1px;top:450.66px">5.4</div>
<div class="t" style="left:607.9px;top:450.66px">7.0</div>
<div class="t" style="left:719.7px;top:450.66px">8.0</div>
<div class="t" style="left:831.5px;top:450.66px">11.0</div>
<div class="t" style="left:943.3px;top:450.66px">13.5</div>
<div class="t" style="left:160.7px;top:482.66px">1.8</div>
<div class="t" style="left:272.5px;top:482.66px">2.8</div>
<div class="t" style="left:384.3px;top:482.66px">3.6</div>
<div class="t" style="left:496.1px;top:482.66px">4.3</div>
<div class="t" style="left:607.9px;top:482.66px">5.5</div>
<div class="t" style="left:719.7px;top:482.66px">7.0</div>
<div class="t" style="left:831.5px;top:482.66px">8.9</div>
<div class="t" style="left:943.3px;top:482.66px">11.0</div>
<div class="t" style="left:160.7px;top:514.66px">1.7</div>
<div class="t" style="left:272.5px;top:514.66px">2.3</div>
<div class="t" style="left:384.3px;top:514.66px">3.0</div>
<div class="t" style="left:496.1px;top:514.66px">3,7</div>
<div class="t" style="left:607.9px;top:514.66px">4.3</div>
<div class="t" style="left:719.7px;top:514.66px">5.8</div>
<div class="t" style="left:831.5px;top:514.66px">7.4</div>
<div class="t" style="left:943.3px;top:514.66px">8.8</div>
<div class="t" style="left:160.7px;top:546.66px">1.3</div>
<div class="t" style="left:272.5px;top:546.66px">1.9</div>
<div class="t" style="left:384.3px;top:546.66px">2.4</div>
<div class="t" style="left:496.1px;top:546.66px">3.0</div>
<div class="t" style="left:607.9px;top:546.66px">3.6</div>
<div class="t" style="left:719.7px;top:546.66px">4.4</div>
<div class="t" style="left:831.5px;top:546.66px">5.9</div>
<div class="t" style="left:943.3px;top:546.66px">7.4</div>
<div class="t" style="left:160.7px;top:578.66px">1.1</div>
<div class="t" style="left:272.5px;top:578.66px">1.6</div>
<div class="t" style="left:384.3px;top:578.66px">2.0</div>
<div class="t" style="left:496.1px;top:578.66px">2.4</div>
<div class="t" style="left:607.9px;top:578.66px">2.7</div>
<div class="t" style="left:719.7px;top:578.66px">3.6</div>
<div class="t" style="left:831.5px;top:578.66px">4.8</div>
<div class="t" style="left:943.3px;top:578.66px">5.9</div>
<div class="t" style="left:160.7px;top:610.66px">150</div>
<div class="t" style="left:272.5px;top:610.66px">200</div>
<div class="t" style="left:384.3px;top:610.66px">260</div>
<div class="t" style="left:496.1px;top:610.66px">320</div>
<div class="t" style="left:607.9px;top:610.66px">370</div>
<div class="t" style="left:719.7px;top:610.66px">500</div>
<div class="t" style="left:831.5px;top:610.66px">640</div>
<div class="t" style="left:943.3px;top:610.66px">760</div>
<div class="t" style="left:160.7px;top:642.66px">4</div>
<div class="t" style="left:272.5px;top:642.66px">6</div>
<div class="t" style="left:384.3px;top:642.66px">10</div>
<div class="t" style="left:496.1px;top:642.66px">13</div>
<div class="t" style="left:607.9px;top:642.66px">17</div>
<div class="t" style="left:719.7px;top:642.66px">21</div>
<div class="t" style="left:831.5px;top:642.66px">30</div>
<div class="t" style="left:943.3px;top:642.66px">35</div>
<div class="t" style="left:551.6px;top:679.16px">220~240V/1PH/50Hz(or 60HZ)</div>
<div class="t" style="left:160.7px;top:706.66px">60</div>
<div class="t" style="left:272.5px;top:706.66px">65</div>
<div class="t" style="left:384.3px;top:706.66px">67</div>
<div class="t" style="left:496.1px;top:706.66px">95</div>
<div class="t" style="left:607.9px;top:706.66px">105</div>
<div class="t" style="left:719.7px;top:706.66px">156</div>
<div class="t" style="left:831.5px;top:706.66px">183</div>
<div class="t" style="left:943.3px;top:706.66px">190</div>
<div class="t" style="left:160.7px;top:738.66px">37</div>
<div class="t" style="left:272.5px;top:738.66px">39</div>
<div class="t" style="left:384.3px;top:738.66px">41</div>
<div class="t" style="left:496.1px;top:738.66px">43</div>
<div class="t" style="left:607.9px;top:738.66px">45</div>
<div class="t" style="left:719.7px;top:738.66px">46</div>
<div class="t" style="left:831.5px;top:738.66px">50</div>
<div class="t" style="left:943.3px;top:738.66px">52</div>
<div class="t" style="left:552px;top:773.66px">Centrifugal Fan</div>
<div class="t" style="left:160.7px;top:802.66px">SYP130/190J</div>
<div class="t" style="left:272.5px;top:802.66px">SYP130/190J</div>
<div class="t" style="left:384.3px;top:802.66px">SYP130/190J</div>
<div class="t" style="left:496.1px;top:802.66px">SYP130/190J</div>
<div class="t" style="left:607.9px;top:802.66px">SYP130/190J</div>
<div class="t" style="left:719.7px;top:802.66px">SYP130/190J</div>
<div class="t" style="left:831.5px;top:802.66px">SYP130/190J</div>
<div class="t" style="left:943.3px;top:802.66px">SYP130/190J</div>
<div class="t" style="left:160.7px;top:834.66px">1</div>
<div class="t" style="left:272.5px;top:834.66px">1</div>
<div class="t" style="left:384.3px;top:834.66px">2</div>
<div class="t" style="left:496.1px;top:834.66px">2</div>
<div class="t" style="left:607.9px;top:834.66px">2</div>
<div class="t" style="left:719.7px;top:834.66px">3</div>
<div class="t" style="left:831.5px;top:834.66px">4</div>
<div class="t" style="left:943.3px;top:834.66px">4</div>
<div class="t" style="left:552.25px;top:870.36px">3-speed Motor</div>
<div class="t" style="left:160.7px;top:898.66px">1</div>
<div class="t" style="left:272.5px;top:898.66px">1</div>
<div class="t" style="left:384.3px;top:898.66px">1</div>
<div class="t" style="left:496.1px;top:898.66px">1</div>
<div class="t" style="left:607.9px;top:898.66px">2</div>
<div class="t" style="left:719.7px;top:898.66px">2</div>
<div class="t" style="left:831.5px;top:898.66px">2</div>
<div class="t" style="left:943.3px;top:898.66px">2</div>
<div class="t" style="left:552.2px;top:934.06px">2-pipe system: 3rows; 4-pipe system: 3+1rows</div>
<div class="t" style="left:551.7px;top:965.66px">1.6</div>
<div class="t" style="left:551.7px;top:997.46px">3/8”</div>
<div class="t" style="left:551px;top:1029.96px">ZG3/4” / ZG3/4“</div>
<div class="t" style="left:551.7px;top:1061.66px">26</div>
<div class="t" style="left:160.7px;top:1090.66px">19/20</div>
<div class="t" style="left:272.5px;top:1090.66px">21/22</div>
<div class="t" style="left:384.3px;top:1090.66px">26/28</div>
<div class="t" style="left:496.1px;top:1090.66px">26/28</div>
<div class="t" style="left:607.9px;top:1090.66px">38/40</div>
<div class="t" style="left:719.7px;top:1090.66px">38/40</div>
<div class="t" style="left:831.5px;top:1090.66px">44/48</div>
<div class="t" style="left:943.3px;top:1090.66px">44/48</div>
<div class="t" style="left:160.7px;top:1122.66px">17/18</div>
<div class="t" style="left:272.5px;top:1122.66px">19/20</div>
<div class="t" style="left:384.3px;top:1122.66px">24/26</div>
<div class="t" style="left:496.1px;top:1122.66px">24/26</div>
<div class="t" style="left:607.9px;top:1122.66px">36/38</div>
<div class="t" style="left:719.7px;top:1122.66px">36/38</div>
<div class="t" style="left:831.5px;top:1122.66px">42/46</div>
<div class="t" style="left:943.3px;top:1122.66px">42/46</div>
</div>
</body></html>
